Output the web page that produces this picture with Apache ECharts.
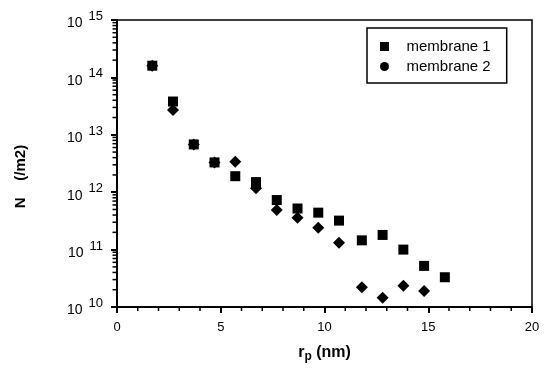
<!DOCTYPE html>
<html><head><meta charset="utf-8">
<script src="https://cdn.jsdelivr.net/npm/echarts@6/dist/echarts.min.js"></script>
<style>html,body{margin:0;padding:0;background:#fff}#c{width:544px;height:372px}</style>
</head><body><div id="c"></div>
<script>
const seriesNames = ['membrane 1', 'membrane 2'];
const xMembrane1 = [1.7, 2.7, 3.7, 4.7, 5.7, 6.7, 7.7, 8.7, 9.7, 10.7, 11.8, 12.8, 13.8, 14.8, 15.8];
const yMembrane1 = [1.6e14, 3.8e13, 6.8e12, 3.3e12, 1.9e12, 1.5e12, 7.3e11, 5.2e11, 4.4e11, 3.2e11, 1.45e11, 1.8e11, 1.0e11, 5.2e10, 3.3e10];
const xMembrane2 = [1.7, 2.7, 3.7, 4.7, 5.7, 6.7, 7.7, 8.7, 9.7, 10.7, 11.8, 12.8, 13.8, 14.8];
const yMembrane2 = [1.6e14, 2.7e13, 6.8e12, 3.3e12, 3.4e12, 1.17e12, 4.9e11, 3.6e11, 2.4e11, 1.32e11, 2.2e10, 1.45e10, 2.35e10, 1.9e10];
const xTicks = [0, 5, 10, 15, 20];
const yDecades = [10, 11, 12, 13, 14, 15];

const FONT = 'Liberation Sans';
const pair = (xs, ys) => xs.map((x, i) => [x, ys[i]]);
const xMin = xTicks[0], xMax = xTicks[xTicks.length - 1];
const yMin = Math.pow(10, yDecades[0]), yMax = Math.pow(10, yDecades[yDecades.length - 1]);
// minor tick positions: 2..9 x 10^d on the log axis, every 1 unit on the x axis
const yMinorTicks = [];
yDecades.slice(0, -1).forEach(d => { for (let k = 2; k <= 9; k++) yMinorTicks.push(k * Math.pow(10, d)); });
const xMinorTicks = [];
for (let v = xMin + 1; v < xMax; v++) if (v % 5 !== 0) xMinorTicks.push(v);

const tickStyle = {stroke: '#000', lineWidth: 1.5};
const chart = echarts.init(document.getElementById('c'), null, {renderer: 'canvas'});
chart.setOption({
  animation: false,
  backgroundColor: '#fff',
  textStyle: {fontFamily: FONT, color: '#000'},
  grid: {left: 117, right: 12, top: 20, bottom: 65, show: true, borderColor: '#000', borderWidth: 1.5, backgroundColor: 'transparent'},
  legend: {
    left: 367, top: 28, orient: 'vertical',
    borderColor: '#000', borderWidth: 1.5, borderRadius: 0,
    padding: [11, 16, 9, 13], itemGap: 5, itemWidth: 9, itemHeight: 9,
    textStyle: {fontFamily: FONT, fontSize: 15, color: '#000'},
    formatter: n => '   ' + n,
    data: [{name: seriesNames[0], icon: 'rect'}, {name: seriesNames[1], icon: 'circle'}]
  },
  xAxis: {
    type: 'value', min: xMin, max: xMax, interval: 5,
    name: '{r|r}{p|p}{n| (nm)}', nameLocation: 'middle', nameGap: 35,
    nameTextStyle: {rich: {
      r: {fontFamily: FONT, fontSize: 16, fontWeight: 'bold', color: '#000'},
      p: {fontFamily: FONT, fontSize: 12, fontWeight: 'bold', color: '#000', padding: [9, 0, 0, 0]},
      n: {fontFamily: FONT, fontSize: 16, fontWeight: 'bold', color: '#000'}
    }},
    axisLine: {show: true, lineStyle: {color: '#000', width: 2}},
    axisTick: {show: true, inside: false, length: 6, lineStyle: {color: '#000', width: 2}},
    splitLine: {show: false},
    axisLabel: {margin: 14, fontFamily: FONT, fontSize: 13, color: '#000'}
  },
  yAxis: {
    type: 'log', logBase: 10, min: yMin, max: yMax,
    name: 'N    (/m2)', nameLocation: 'middle', nameGap: 89, nameRotate: 90,
    nameTextStyle: {fontFamily: FONT, fontSize: 15, fontWeight: 'bold', color: '#000', padding: [0, 26, 0, 0]},
    axisLine: {show: true, lineStyle: {color: '#000', width: 2}},
    axisTick: {show: true, inside: false, length: 6, lineStyle: {color: '#000', width: 2}},
    splitLine: {show: false},
    axisLabel: {
      margin: 14,
      formatter: v => '{a|10}{b|' + Math.round(Math.log10(v)) + '}',
      rich: {
        a: {fontFamily: FONT, fontSize: 14, color: '#000', padding: [7, 6, 0, 0]},
        b: {fontFamily: FONT, fontSize: 13, color: '#000', padding: [0, 0, 7, 0]}
      }
    }
  },
  series: [
    {name: seriesNames[0], type: 'scatter', symbol: 'rect', symbolSize: 10, itemStyle: {color: '#000', opacity: 1}, data: pair(xMembrane1, yMembrane1), z: 3},
    {name: seriesNames[1], type: 'scatter', symbol: 'diamond', symbolSize: 12, itemStyle: {color: '#000', opacity: 1}, data: pair(xMembrane2, yMembrane2), z: 2},
    {
      name: 'yMinor', type: 'custom', coordinateSystem: 'cartesian2d', silent: true, clip: false, z: 5,
      data: yMinorTicks.map(v => [xMin, v]),
      renderItem: (params, api) => {
        const p = api.coord([api.value(0), api.value(1)]);
        return {type: 'line', shape: {x1: p[0] - 4.5, y1: p[1], x2: p[0], y2: p[1]}, style: tickStyle};
      }
    },
    {
      name: 'xMinor', type: 'custom', coordinateSystem: 'cartesian2d', silent: true, clip: false, z: 5,
      data: xMinorTicks.map(v => [v, yMin]),
      renderItem: (params, api) => {
        const p = api.coord([api.value(0), api.value(1)]);
        return {type: 'line', shape: {x1: p[0], y1: p[1], x2: p[0], y2: p[1] + 4}, style: tickStyle};
      }
    }
  ]
});
</script></body></html>
